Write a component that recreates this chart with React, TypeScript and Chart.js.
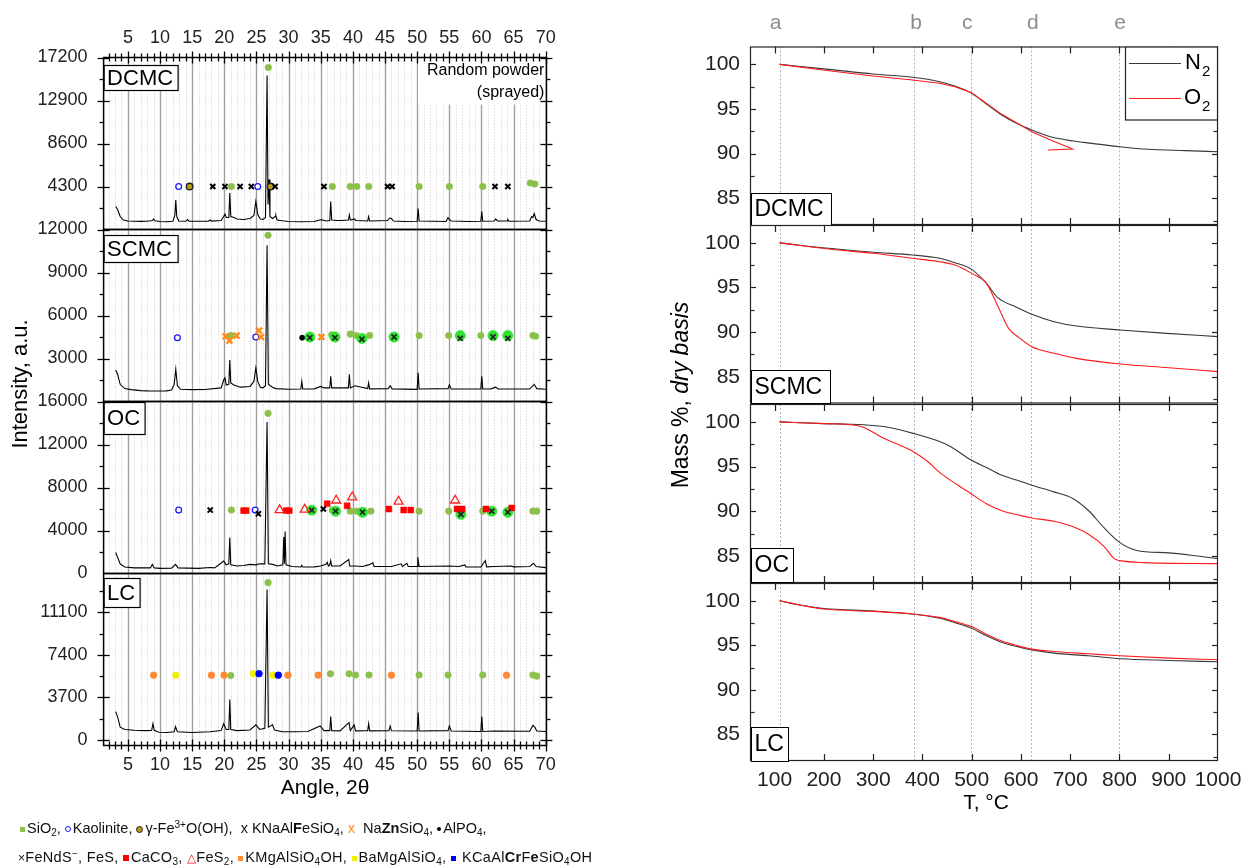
import React, { useEffect, useRef } from "react";
import { Chart, registerables } from "chart.js";

Chart.register(...registerables);

const W = 1248;
const H = 866;
const FONT = '"Liberation Sans", Arial, Helvetica, sans-serif';

// ---------------- XRD (left panel) ----------------
const XRD_X_MIN = 1.22;
const XRD_X_MAX = 70.1;
const XRD_X_LABELS = [5, 10, 15, 20, 25, 30, 35, 40, 45, 50, 55, 60, 65, 70];

const DCMC_PATTERN = [
  [3.1, 2300], [3.4, 2000], [3.8, 1300], [4.3, 950], [5, 850], [6, 820], [7, 810], [8, 820], [8.8, 900], [9.0, 1050], [9.2, 880],
  [10, 800], [11, 780], [12, 820], [12.3, 1400], [12.45, 2950], [12.6, 1300], [12.9, 850], [14, 820], [14.3, 1000], [14.5, 830],
  [16, 820], [17.5, 830], [17.8, 950], [18.0, 840], [19.5, 900], [19.9, 1300], [20.1, 1550], [20.3, 1200], [20.7, 1200],
  [20.85, 3650], [21.0, 1300], [21.5, 1200], [22, 1050], [23, 1000], [24, 1100], [24.6, 1400], [24.9, 2800], [25.2, 1500],
  [25.6, 1050], [26.0, 1000], [26.4, 1200], [26.65, 15400], [26.8, 2500], [26.95, 5000], [27.1, 1300], [27.5, 1100],
  [27.9, 1300], [28.0, 1400], [28.2, 950], [29, 870], [30, 800], [32, 780], [34, 800], [34.8, 950], [35.2, 980], [35.8, 850],
  [36.4, 900], [36.55, 2800], [36.7, 950], [37.5, 900], [38.2, 900], [39.3, 950], [39.45, 1450], [39.6, 950], [40.3, 1050],
  [40.4, 900], [42.3, 850], [42.45, 1300], [42.6, 850], [45.4, 900], [45.7, 1150], [46.0, 1100], [46.3, 850], [48, 800],
  [50.0, 820], [50.15, 2100], [50.3, 850], [54.5, 800], [54.8, 1200], [55.0, 1000], [55.3, 850], [58, 800], [59.9, 820],
  [60.05, 1800], [60.2, 820], [62, 850], [62.2, 1050], [62.5, 850], [64, 850], [64.1, 1000], [64.3, 820], [67.5, 850],
  [67.8, 1300], [68.0, 1200], [68.2, 1600], [68.5, 1000], [69, 850], [70, 820],
];

const SCMC_PATTERN = [
  [3.1, 2200], [3.4, 1900], [3.8, 1200], [4.5, 900], [5.5, 830], [7, 760], [8, 740], [9, 730], [10, 730], [11, 740],
  [11.8, 800], [12.2, 1200], [12.45, 2250], [12.7, 1100], [13.2, 850], [15, 830], [17, 840], [19.5, 950], [19.9, 1500],
  [20.1, 1650], [20.3, 1150], [20.7, 1200], [20.85, 2900], [21.0, 1300], [21.5, 1150], [22.5, 1000], [24, 1050], [24.6, 1400],
  [24.9, 2350], [25.2, 1400], [25.6, 1000], [26.0, 950], [26.4, 1100], [26.65, 10900], [26.85, 1200], [27.5, 1000], [28, 900],
  [30, 850], [31.9, 870], [32.05, 1400], [32.2, 870], [34, 880], [35, 1050], [35.5, 950], [36.4, 950], [36.55, 1750],
  [36.7, 950], [38, 950], [39.3, 950], [39.45, 1900], [39.6, 950], [40.3, 1100], [42.3, 900], [42.45, 1300], [42.6, 880],
  [45.5, 900], [45.8, 1100], [46.1, 880], [50.0, 850], [50.15, 2000], [50.3, 870], [54.8, 900], [55.0, 1150], [55.3, 880],
  [59.9, 870], [60.05, 1750], [60.2, 870], [61.5, 880], [62.2, 1000], [62.6, 870], [67.5, 870], [68.2, 1200], [68.6, 900],
  [70, 850],
];

const OC_PATTERN = [
  [3.1, 1950], [3.4, 1500], [3.8, 900], [4.5, 600], [6, 520], [8.5, 520], [8.8, 840], [9.1, 520], [10, 480], [11.8, 500],
  [12.4, 850], [12.8, 520], [16, 480], [17.8, 560], [18.5, 520], [19.9, 1150], [20.3, 800], [20.7, 900], [20.85, 3350],
  [21.0, 800], [22, 700], [23, 750], [24, 850], [24.9, 800], [25.5, 900], [26.3, 900], [26.65, 14100], [26.85, 900],
  [27.5, 850], [28.3, 700], [29.1, 800], [29.25, 3400], [29.35, 900], [29.45, 3900], [29.6, 800], [30.5, 650], [31.9, 600],
  [32.05, 750], [32.2, 600], [34, 620], [35.0, 700], [35.8, 850], [36.0, 1050], [36.2, 700], [36.4, 800], [36.55, 1200],
  [36.7, 700], [38, 700], [39.35, 1300], [39.5, 700], [40.3, 700], [41.5, 650], [42.45, 800], [43.1, 1000], [43.3, 650],
  [46, 650], [47.5, 900], [47.7, 650], [48.4, 950], [48.6, 650], [50.0, 650], [50.1, 1500], [50.3, 650], [55, 700],
  [56.5, 650], [57.4, 800], [57.6, 620], [59.9, 600], [60.6, 1200], [60.8, 620], [62, 650], [64.6, 700], [65, 620],
  [67.5, 650], [68.1, 950], [68.5, 650], [70, 550],
];

const LC_PATTERN = [
  [3.1, 2450], [3.4, 2000], [3.8, 1100], [4.5, 900], [6, 830], [7.5, 800], [8.7, 820], [8.9, 1400], [9.1, 820], [9.8, 650],
  [11, 630], [12.2, 700], [12.4, 1150], [12.7, 700], [15, 640], [17.8, 700], [19.5, 800], [19.9, 1400], [20.3, 900],
  [20.7, 900], [20.85, 3500], [21.0, 900], [22, 800], [24, 850], [24.9, 1300], [25.5, 900], [26.3, 1000], [26.65, 13100],
  [26.85, 1100], [27.5, 1300], [27.8, 850], [29, 700], [31, 700], [33, 720], [34.9, 1200], [35.5, 800], [36.4, 800],
  [36.55, 2030], [36.7, 800], [38, 780], [39.4, 1500], [39.6, 800], [40.2, 1300], [40.4, 780], [42.3, 800], [42.45, 1400],
  [42.6, 780], [45.6, 800], [45.8, 1200], [46.0, 780], [50.0, 760], [50.15, 2380], [50.3, 760], [54.8, 800], [55.0, 1200],
  [55.3, 760], [59.9, 720], [60.05, 2030], [60.2, 720], [62, 760], [67.5, 740], [68.0, 1250], [68.3, 1100], [68.6, 760],
  [70, 720],
];

// phase markers: [angle, intensity]
const DCMC_SIO2 = [[21.1, 4300], [26.85, 16200], [36.8, 4300], [39.6, 4300], [40.6, 4300], [42.45, 4300], [50.3, 4300], [55.0, 4300], [60.2, 4300], [67.6, 4650], [68.3, 4550]];
const DCMC_KAOLINITE = [[12.9, 4300], [25.2, 4300]];
const DCMC_GOETHITE = [[14.6, 4300], [27.2, 4300]];
const DCMC_KNAALFESIO4 = [[18.2, 4300], [20.1, 4300], [22.45, 4300], [24.2, 4300], [27.9, 4300], [35.5, 4300], [45.4, 4300], [46.1, 4300], [62.1, 4300], [64.1, 4300]];

const SCMC_SIO2 = [[21.0, 4600], [26.8, 11600], [36.7, 4650], [39.6, 4700], [40.5, 4600], [42.6, 4600], [50.3, 4600], [54.9, 4600], [59.9, 4600], [68.0, 4600], [68.4, 4550]];
const SCMC_KAOLINITE = [[12.7, 4450], [24.9, 4500]];
const SCMC_NAZNSIO4 = [[20.2, 4550], [20.8, 4250], [21.9, 4600], [25.4, 4950], [25.7, 4500], [35.1, 4500]];
const SCMC_ALPO4 = [[32.1, 4450]];
const SCMC_FES = [[33.3, 4500], [37.2, 4500], [41.4, 4400], [46.4, 4500], [56.7, 4600], [61.8, 4600], [64.1, 4600]];
const SCMC_FENDS = [[33.3, 4450], [37.2, 4450], [41.4, 4350], [46.4, 4500], [56.7, 4400], [61.8, 4500], [64.1, 4400]];

const OC_SIO2 = [[21.1, 5900], [26.8, 14900], [36.8, 5900], [39.6, 5800], [40.6, 5800], [42.8, 5800], [50.3, 5800], [54.9, 5800], [60.2, 5800], [68.0, 5800], [68.6, 5800]];
const OC_KAOLINITE = [[12.9, 5900], [24.8, 5900]];
const OC_KNAALFESIO4 = [[17.8, 5900], [25.3, 5550], [35.4, 6000]];
const OC_CACO3 = [[23.0, 5850], [23.4, 5850], [29.6, 5850], [30.1, 5850], [36.0, 6500], [39.1, 6300], [45.6, 6000], [47.9, 5900], [49.0, 5900], [56.2, 6000], [57.0, 6000], [60.7, 6000], [64.7, 6100]];
const OC_FES2 = [[28.6, 5900], [32.5, 5950], [37.4, 6800], [39.9, 7100], [47.1, 6700], [55.9, 6800]];
const OC_FES = [[33.6, 5900], [37.3, 5800], [41.5, 5700], [56.8, 5500], [61.6, 5800], [64.1, 5700]];
const OC_FENDS = [[33.6, 5900], [37.3, 5800], [41.5, 5700], [56.8, 5500], [61.6, 5800], [64.1, 5700]];

const LC_SIO2 = [[21.0, 5600], [26.8, 13700], [36.5, 5750], [39.4, 5750], [40.4, 5650], [42.5, 5650], [50.3, 5650], [54.8, 5650], [60.2, 5650], [68.0, 5650], [68.6, 5550]];
const LC_KMGALSIO4OH = [[9.0, 5630], [18.0, 5630], [19.95, 5630], [29.9, 5630], [34.6, 5630], [46.0, 5630], [63.9, 5630]];
const LC_BAMGALSIO4 = [[12.45, 5630], [24.5, 5760], [27.6, 5630]];
const LC_KCAALCRFESIO4OH = [[25.4, 5760], [28.4, 5630]];

const DCMC_Y_LABELS = [4300, 8600, 12900, 17200];
const SCMC_Y_LABELS = [3000, 6000, 9000, 12000];
const OC_Y_LABELS = [0, 4000, 8000, 12000, 16000];
const LC_Y_LABELS = [0, 3700, 7400, 11100];

// ---------------- TGA (right panel) ----------------
const TGA_X_LABELS = [100, 200, 300, 400, 500, 600, 700, 800, 900, 1000];
const TGA_Y_LABELS = [85, 90, 95, 100];
const TGA_STAGE_T = [111, 383, 498, 620, 799];
const TGA_STAGE_LABEL_T = [102, 387, 491, 624, 801];
const TGA_STAGE_NAMES = ["a", "b", "c", "d", "e"];

const DCMC_N2_T = [110, 210, 300, 380, 435, 466, 500, 530, 561, 591, 622, 660, 706, 744, 801, 858, 934, 1000];
const DCMC_N2_M = [100, 99.44, 98.92, 98.55, 98.06, 97.57, 96.75, 95.56, 94.33, 93.39, 92.64, 91.89, 91.41, 91.15, 90.77, 90.48, 90.33, 90.21];
const DCMC_O2_T = [110, 210, 300, 380, 435, 466, 500, 530, 561, 591, 622, 660, 705, 655];
const DCMC_O2_M = [100, 99.29, 98.7, 98.25, 97.88, 97.5, 96.83, 95.63, 94.4, 93.47, 92.46, 91.53, 90.52, 90.41];

const SCMC_N2_T = [110, 210, 300, 380, 435, 466, 500, 530, 553, 591, 622, 667, 713, 801, 896, 1000];
const SCMC_N2_M = [100, 99.39, 98.94, 98.64, 98.27, 97.78, 97.03, 95.46, 93.86, 92.78, 91.99, 91.17, 90.68, 90.24, 89.86, 89.49];
const SCMC_O2_T = [110, 210, 300, 380, 435, 466, 500, 530, 553, 575, 600, 622, 667, 713, 801, 900, 1000];
const SCMC_O2_M = [100, 99.31, 98.83, 98.27, 97.89, 97.52, 96.58, 95.46, 92.92, 90.42, 89.23, 88.37, 87.62, 87.06, 86.43, 86.01, 85.57];

const OC_N2_T = [110, 200, 253, 300, 330, 381, 435, 456, 498, 530, 560, 591, 622, 667, 706, 737, 768, 801, 835, 900, 1000];
const OC_N2_M = [100, 99.81, 99.74, 99.6, 99.4, 98.72, 97.8, 97.28, 95.77, 94.9, 94.07, 93.5, 92.93, 92.18, 91.42, 90.1, 88.21, 86.51, 85.64, 85.37, 84.73];
const OC_O2_T = [110, 200, 250, 280, 320, 350, 381, 410, 436, 470, 498, 530, 560, 600, 622, 667, 706, 737, 768, 790, 801, 850, 1000];
const OC_O2_M = [100, 99.81, 99.7, 99.4, 98.2, 97.5, 96.7, 95.6, 94.3, 93.0, 92.0, 90.85, 90.1, 89.53, 89.27, 88.89, 88.28, 87.45, 86.13, 84.69, 84.5, 84.28, 84.16];

const LC_N2_T = [110, 150, 200, 300, 380, 435, 466, 500, 530, 560, 591, 622, 667, 737, 801, 900, 1000];
const LC_N2_M = [100, 99.52, 99.14, 98.85, 98.51, 98.03, 97.54, 96.91, 96.06, 95.35, 94.87, 94.49, 94.12, 93.82, 93.49, 93.3, 93.15];
const LC_O2_T = [110, 150, 200, 300, 380, 435, 466, 500, 530, 560, 591, 622, 667, 737, 801, 900, 1000];
const LC_O2_M = [100, 99.55, 99.07, 98.81, 98.51, 98.14, 97.66, 97.1, 96.24, 95.5, 94.98, 94.57, 94.31, 94.05, 93.82, 93.56, 93.38];

// ---------------- styles & layout ----------------
const PHASE_STYLE: Record<string, any> = {
  SiO2: { ps: "circle", r: 3.3, bg: "#8cc04a", bc: "#8cc04a", bw: 0.5 },
  Kaolinite: { ps: "circle", r: 2.9, bg: "#ffffff", bc: "#1a1aff", bw: 1.3 },
  Goethite: { ps: "circle", r: 3.3, bg: "#b89a10", bc: "#222222", bw: 1.4 },
  KNaAlFeSiO4: { ps: "crossRot", r: 3.6, bg: "#000", bc: "#000", bw: 2 },
  NaZnSiO4: { ps: "crossRot", r: 4.2, bg: "#ff8c1a", bc: "#ff8c1a", bw: 2.4 },
  AlPO4: { ps: "circle", r: 2.6, bg: "#000", bc: "#000", bw: 0.5 },
  FeNdS: { ps: "crossRot", r: 3.6, bg: "#222", bc: "#222", bw: 1.7 },
  FeS: { ps: "circle", r: 5.2, bg: "#2fe22f", bc: "#2fe22f", bw: 0.5 },
  CaCO3: { ps: "rect", r: 4.2, bg: "#ff0000", bc: "#ff0000", bw: 0.5 },
  FeS2: { ps: "triangle", r: 5.2, bg: "rgba(255,255,255,0)", bc: "#ff2020", bw: 1.3 },
  KMgAlSiO4OH: { ps: "circle", r: 3.4, bg: "#ff8a33", bc: "#ff8a33", bw: 0.5 },
  BaMgAlSiO4: { ps: "circle", r: 3.4, bg: "#f2ee00", bc: "#f2ee00", bw: 0.5 },
  KCaAlCrFeSiO4OH: { ps: "circle", r: 3.4, bg: "#0000ff", bc: "#0000ff", bw: 0.5 },
};

const XL = 103.6;
const XR = 546.4;
const TL = 750;
const TR = 1218;

const XRD_PANELS: any[] = [
  {
    name: "DCMC", top: 57.5, bottom: 229.5, yMin: 0, yMax: 17200, step: 4300, labels: DCMC_Y_LABELS,
    box: [103.6, 65, 74, 25], pattern: DCMC_PATTERN, topAxis: true, note: true,
    markers: [["KNaAlFeSiO4", DCMC_KNAALFESIO4], ["Goethite", DCMC_GOETHITE], ["Kaolinite", DCMC_KAOLINITE], ["SiO2", DCMC_SIO2]],
  },
  {
    name: "SCMC", top: 229.5, bottom: 401.5, yMin: 0, yMax: 12000, step: 3000, labels: SCMC_Y_LABELS,
    box: [103.6, 235, 74, 27], pattern: SCMC_PATTERN,
    markers: [["FeNdS", SCMC_FENDS], ["NaZnSiO4", SCMC_NAZNSIO4], ["AlPO4", SCMC_ALPO4], ["Kaolinite", SCMC_KAOLINITE], ["FeS", SCMC_FES], ["SiO2", SCMC_SIO2]],
  },
  {
    name: "OC", top: 401.5, bottom: 573.5, yMin: 0, yMax: 16000, step: 4000, labels: OC_Y_LABELS,
    box: [103.6, 402, 41, 32], pattern: OC_PATTERN, yTitle: true,
    markers: [["FeNdS", OC_FENDS], ["KNaAlFeSiO4", OC_KNAALFESIO4], ["FeS2", OC_FES2], ["CaCO3", OC_CACO3], ["Kaolinite", OC_KAOLINITE], ["FeS", OC_FES], ["SiO2", OC_SIO2]],
  },
  {
    name: "LC", top: 573.5, bottom: 745.5, yMin: -500, yMax: 14500, step: 3700, labels: LC_Y_LABELS,
    box: [103.6, 578, 36, 29], pattern: LC_PATTERN, bottomAxis: true,
    markers: [["KCaAlCrFeSiO4OH", LC_KCAALCRFESIO4OH], ["BaMgAlSiO4", LC_BAMGALSIO4], ["KMgAlSiO4OH", LC_KMGALSIO4OH], ["SiO2", LC_SIO2]],
  },
];

const TGA_PANELS: any[] = [
  { name: "DCMC", top: 46.5, bottom: 225, box: [751, 193, 80, 32], n2: [DCMC_N2_T, DCMC_N2_M], o2: [DCMC_O2_T, DCMC_O2_M], legend: true, stages: true, o2Straight: true },
  { name: "SCMC", top: 225, bottom: 403.5, box: [751, 370, 79, 33], n2: [SCMC_N2_T, SCMC_N2_M], o2: [SCMC_O2_T, SCMC_O2_M] },
  { name: "OC", top: 404, bottom: 583, box: [751, 548, 42, 34], n2: [OC_N2_T, OC_N2_M], o2: [OC_O2_T, OC_O2_M], yTitle: true },
  { name: "LC", top: 583, bottom: 761, box: [751, 727, 37, 34], n2: [LC_N2_T, LC_N2_M], o2: [LC_O2_T, LC_O2_M], bottomAxis: true },
];

function txt(ctx: any, s: string, x: number, y: number, size: number, color = "#000", align = "center", base = "middle", style = "") {
  ctx.font = `${style}${size}px ${FONT}`;
  ctx.fillStyle = color;
  ctx.textAlign = align;
  ctx.textBaseline = base;
  ctx.fillText(s, x, y);
}

function line(ctx: any, x1: number, y1: number, x2: number, y2: number) {
  ctx.beginPath();
  ctx.moveTo(x1, y1);
  ctx.lineTo(x2, y2);
  ctx.stroke();
}

function labelBox(ctx: any, box: number[], name: string, lw: number, size: number) {
  const [bx, by, bw, bh] = box;
  ctx.fillStyle = "#fff";
  ctx.fillRect(bx, by, bw, bh);
  ctx.strokeStyle = "#000";
  ctx.lineWidth = lw;
  ctx.strokeRect(bx + 0.5, by + 0.5, bw, bh);
  txt(ctx, name, bx + 3.5, by + bh / 2 + 1, size, "#000", "left");
}

function toPts(xs: number[], ys: number[]) {
  return xs.map((x, i) => ({ x, y: ys[i] }));
}

function xrdChart(canvas: HTMLCanvasElement, p: any) {
  const datasets: any[] = [];
  p.markers.forEach(([phase, pts]: [string, number[][]]) => {
    const s = PHASE_STYLE[phase];
    datasets.push({
      type: "scatter",
      data: pts.map(([x, y]) => ({ x, y })),
      showLine: false,
      pointStyle: s.ps,
      pointRadius: s.r,
      pointBackgroundColor: s.bg,
      pointBorderColor: s.bc,
      pointBorderWidth: s.bw,
      backgroundColor: s.bg,
      borderColor: s.bc,
    });
  });
  datasets.push({
    type: "scatter",
    data: p.pattern.map(([x, y]: number[]) => ({ x, y })),
    showLine: true,
    borderColor: "#000",
    borderWidth: 1.1,
    pointRadius: 0,
    tension: 0,
    fill: false,
  });

  const plugin = {
    id: "xrd" + p.name,
    beforeDatasetsDraw(chart: any) {
      const { ctx, chartArea: a } = chart;
      const x = chart.scales.x;
      ctx.save();
      for (let v = 2; v <= 70; v++) {
        const px = Math.round(x.getPixelForValue(v)) + 0.5;
        if (v % 5 === 0) {
          ctx.setLineDash([]);
          ctx.strokeStyle = "#a0a0a0";
          ctx.lineWidth = 1.4;
        } else {
          ctx.setLineDash([1, 2]);
          ctx.strokeStyle = "#c6c6c6";
          ctx.lineWidth = 1;
        }
        line(ctx, px, a.top, px, a.bottom);
      }
      ctx.setLineDash([]);
      if (p.note) {
        ctx.fillStyle = "#fff";
        ctx.fillRect(418, a.top, a.right - 418, 47);
      }
      ctx.restore();
    },
    afterDatasetsDraw(chart: any) {
      const { ctx, chartArea: a } = chart;
      const x = chart.scales.x;
      const y = chart.scales.y;
      ctx.save();
      labelBox(ctx, p.box, p.name, 1.2, 22);
      if (p.note) {
        txt(ctx, "Random powder", a.right - 2, 71, 16, "#000", "right");
        txt(ctx, "(sprayed)", a.right - 2, 93, 16, "#000", "right");
      }
      // frame
      ctx.strokeStyle = "#000";
      ctx.lineWidth = 1.5;
      ctx.strokeRect(a.left, a.top, a.right - a.left, a.bottom - a.top);
      // y ticks
      ctx.lineWidth = 1.3;
      const half = p.step / 2;
      for (let v = Math.ceil(p.yMin / half) * half; v <= p.yMax + 1e-6; v += half) {
        const py = Math.round(y.getPixelForValue(v)) + 0.5;
        if (py < a.top + 1 || py > a.bottom - 1) continue;
        const major = Math.abs(v / p.step - Math.round(v / p.step)) < 1e-6;
        const len = major ? 6 : 4;
        line(ctx, a.left - len, py, a.left + (major ? len : 0), py);
        line(ctx, a.right - (major ? len : 0), py, a.right + len, py);
      }
      p.labels.forEach((v: number) => {
        txt(ctx, String(v), a.left - 16, y.getPixelForValue(v), 18, "#222", "right");
      });
      const xTicks = (edge: number, labelY: number) => {
        ctx.strokeStyle = "#000";
        ctx.lineWidth = 1.3;
        for (let v = 2; v <= 70; v++) {
          const px = Math.round(x.getPixelForValue(v)) + 0.5;
          const len = v % 5 === 0 ? 6 : 4;
          line(ctx, px, edge - len, px, edge + len);
        }
        XRD_X_LABELS.forEach((v) => txt(ctx, String(v), x.getPixelForValue(v), labelY, 18, "#222"));
      };
      if (p.topAxis) xTicks(a.top, 38);
      if (p.bottomAxis) {
        xTicks(a.bottom, 765);
        txt(ctx, "Angle, 2θ", 325, 788, 21, "#000");
      }
      if (p.yTitle) {
        ctx.translate(21, 384);
        ctx.rotate(-Math.PI / 2);
        txt(ctx, "Intensity, a.u.", 0, 0, 22, "#000");
      }
      ctx.restore();
    },
  };

  return new Chart(canvas, {
    type: "scatter",
    data: { datasets },
    options: {
      responsive: false,
      animation: false,
      events: [],
      layout: { padding: { left: XL, right: W - XR, top: p.top, bottom: H - p.bottom } },
      plugins: { legend: { display: false }, tooltip: { enabled: false } },
      scales: {
        x: { type: "linear", min: XRD_X_MIN, max: XRD_X_MAX, display: false },
        y: { type: "linear", min: p.yMin, max: p.yMax, display: false },
      },
    },
    plugins: [plugin],
  } as any);
}

function subText(ctx: any, main: string, sub: string, x: number, y: number, size: number) {
  ctx.font = `${size}px ${FONT}`;
  ctx.fillStyle = "#000";
  ctx.textAlign = "left";
  ctx.textBaseline = "middle";
  ctx.fillText(main, x, y);
  const w = ctx.measureText(main).width;
  ctx.font = `${Math.round(size * 0.68)}px ${FONT}`;
  ctx.fillText(sub, x + w + 1, y + size * 0.38);
}

function tgaChart(canvas: HTMLCanvasElement, p: any) {
  const curve = (straight: boolean) =>
    straight ? { tension: 0 } : { cubicInterpolationMode: "monotone" };
  const datasets = [
    { type: "scatter", data: toPts(p.o2[0], p.o2[1]), showLine: true, borderColor: "#ff1a1a", borderWidth: 1.1, pointRadius: 0, ...curve(!!p.o2Straight) },
    { type: "scatter", data: toPts(p.n2[0], p.n2[1]), showLine: true, borderColor: "#383838", borderWidth: 1.1, pointRadius: 0, ...curve(false) },
  ];
  const plugin = {
    id: "tga" + p.name,
    beforeDatasetsDraw(chart: any) {
      const { ctx, chartArea: a } = chart;
      const x = chart.scales.x;
      ctx.save();
      ctx.strokeStyle = "#b4b4b4";
      ctx.lineWidth = 1;
      ctx.setLineDash([2, 2]);
      TGA_STAGE_T.forEach((t) => {
        const px = Math.round(x.getPixelForValue(t)) + 0.5;
        line(ctx, px, a.top, px, a.bottom);
      });
      ctx.restore();
    },
    afterDatasetsDraw(chart: any) {
      const { ctx, chartArea: a } = chart;
      const x = chart.scales.x;
      const y = chart.scales.y;
      ctx.save();
      ctx.strokeStyle = "#222";
      ctx.lineWidth = 1.2;
      ctx.strokeRect(a.left + 0.5, a.top + 0.5, a.right - a.left - 1, a.bottom - a.top - 1);
      // x ticks (inward)
      for (let t = 100; t <= 900; t += 100) {
        const px = Math.round(x.getPixelForValue(t)) + 0.5;
        line(ctx, px, a.top, px, a.top + 7);
        line(ctx, px, a.bottom, px, a.bottom - 7);
      }
      // y ticks (inward)
      for (let v = 82.5; v <= 101; v += 2.5) {
        const py = Math.round(y.getPixelForValue(v)) + 0.5;
        const len = v % 5 === 0 ? 6 : 4.5;
        line(ctx, a.left, py, a.left + len, py);
        line(ctx, a.right, py, a.right - len, py);
      }
      TGA_Y_LABELS.forEach((v) => txt(ctx, String(v), 740, y.getPixelForValue(v), 21, "#222", "right"));
      labelBox(ctx, p.box, p.name, 1, 23);
      if (p.legend) {
        ctx.fillStyle = "#fff";
        ctx.fillRect(1125, a.top, a.right - 1125, 73);
        ctx.strokeStyle = "#222";
        ctx.lineWidth = 1.2;
        ctx.strokeRect(1125.5, a.top + 0.5, a.right - 1126, 73);
        ctx.lineWidth = 1.1;
        ctx.strokeStyle = "#383838";
        line(ctx, 1129, 63.5, 1181, 63.5);
        ctx.strokeStyle = "#ff1a1a";
        line(ctx, 1129, 98.5, 1181, 98.5);
        subText(ctx, "N", "2", 1185, 63, 22);
        subText(ctx, "O", "2", 1184, 98, 22);
      }
      if (p.stages) {
        TGA_STAGE_LABEL_T.forEach((t, i) => txt(ctx, TGA_STAGE_NAMES[i], x.getPixelForValue(t), 23, 21, "#8c8c8c"));
      }
      if (p.bottomAxis) {
        TGA_X_LABELS.forEach((t) => txt(ctx, String(t), x.getPixelForValue(t), 780, 21, "#222"));
        txt(ctx, "T, °C", 986, 803, 21, "#000");
      }
      if (p.yTitle) {
        ctx.translate(682, 395);
        ctx.rotate(-Math.PI / 2);
        ctx.font = `23px ${FONT}`;
        const w1 = ctx.measureText("Mass %, ").width;
        ctx.font = `italic 23px ${FONT}`;
        const w2 = ctx.measureText("dry basis").width;
        const start = -(w1 + w2) / 2;
        txt(ctx, "Mass %, ", start, 0, 23, "#000", "left");
        txt(ctx, "dry basis", start + w1, 0, 23, "#000", "left", "middle", "italic ");
      }
      ctx.restore();
    },
  };
  return new Chart(canvas, {
    type: "scatter",
    data: { datasets },
    options: {
      responsive: false,
      animation: false,
      events: [],
      layout: { padding: { left: TL, right: W - TR, top: p.top, bottom: H - p.bottom } },
      plugins: { legend: { display: false }, tooltip: { enabled: false } },
      scales: {
        x: { type: "linear", min: 50, max: 1000, display: false },
        y: { type: "linear", min: 82, max: 102, display: false },
      },
    },
    plugins: [plugin],
  } as any);
}

const subS = (s: string) => <span style={{ fontSize: 10, position: "relative", top: 3 }}>{s}</span>;
const supS = (s: string) => <span style={{ fontSize: 10, position: "relative", top: -5 }}>{s}</span>;
const dot = (bg: string, border = "none", size = 5, round = true) => (
  <span
    style={{
      display: "inline-block",
      width: size,
      height: size,
      background: bg,
      border,
      borderRadius: round ? "50%" : 0,
      marginRight: 2,
      verticalAlign: "middle",
      boxSizing: "border-box",
    }}
  />
);

export default function App() {
  const refs = useRef<(HTMLCanvasElement | null)[]>([]);
  useEffect(() => {
    const charts: Chart[] = [];
    XRD_PANELS.forEach((p, i) => charts.push(xrdChart(refs.current[i]!, p)));
    TGA_PANELS.forEach((p, i) => charts.push(tgaChart(refs.current[4 + i]!, p)));
    return () => charts.forEach((c) => c.destroy());
  }, []);

  const legendStyle: any = {
    position: "absolute",
    fontFamily: FONT,
    fontSize: 14.5,
    color: "#111",
    whiteSpace: "nowrap",
    lineHeight: "18px",
    height: 18,
  };

  return (
    <div style={{ position: "absolute", left: 0, top: 0, width: W, height: H, background: "#fff", overflow: "hidden" }}>
      {Array.from({ length: 8 }).map((_, i) => (
        <canvas
          key={i}
          ref={(el) => {
            refs.current[i] = el;
          }}
          width={W}
          height={H}
          style={{ position: "absolute", left: 0, top: 0, width: W, height: H }}
        />
      ))}
      <div style={{ ...legendStyle, top: 819, left: 20 }}>
        {dot("#8cc04a", "none", 5, false)}SiO{subS("2")}, {dot("#fff", "1.3px solid #1a1aff", 6)}Kaolinite,{" "}
        {dot("#b89a10", "1.5px solid #222", 7)}γ-Fe{supS("3+")}O(OH),&nbsp; x KNaAl<b>F</b>eSiO{subS("4")},{" "}
        <span style={{ color: "#ff8c1a" }}>x</span>&nbsp; Na<b>Zn</b>SiO{subS("4")}, {dot("#000", "none", 4)}AlPO{subS("4")},
      </div>
      <div style={{ ...legendStyle, top: 848, left: 18, letterSpacing: 0.3 }}>
        <span style={{ fontSize: 12 }}>×</span>FeNdS{supS("−")}, FeS, {dot("#ff0000", "none", 6, false)}CaCO{subS("3")},{" "}
        <span style={{ color: "#ff2020", fontSize: 12 }}>△</span>FeS{subS("2")}, {dot("#ff8a33", "none", 5, false)}KMgAlSiO{subS("4")}OH,{" "}
        {dot("#f2ee00", "none", 5, false)}BaMgAlSiO{subS("4")}, {dot("#0000ff", "none", 5, false)} KCaAl<b>Cr</b>F<b>e</b>SiO{subS("4")}OH
      </div>
    </div>
  );
}
